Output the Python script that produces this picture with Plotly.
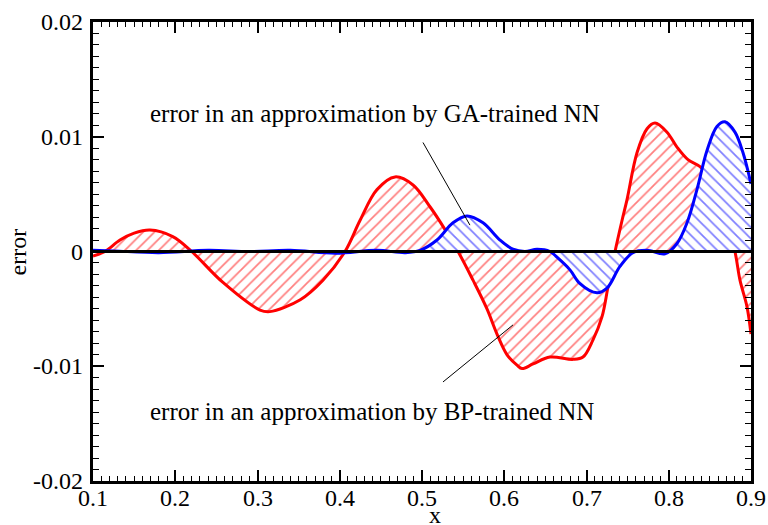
import plotly.graph_objects as go

# BP-trained NN error (red)
bp_x = [0.100, 0.1146, 0.1328, 0.150, 0.1693, 0.197, 0.2200, 0.258, 0.303, 0.315, 0.352, 0.3796,
        0.4064, 0.4246, 0.4453, 0.4672, 0.4891, 0.5097, 0.5219, 0.5438, 0.562, 0.579,
        0.5912, 0.6034, 0.6155, 0.6216, 0.635, 0.6556, 0.6836, 0.6957, 0.7079, 0.7188,
        0.7261, 0.7347, 0.7432, 0.7492, 0.7614, 0.7736, 0.7833, 0.7979, 0.8100, 0.8234,
        0.8380, 0.8526, 0.8672, 0.8805, 0.8866, 0.8951, 0.900]
bp_y = [-0.0004, 0.0, 0.0010, 0.0016, 0.00187, 0.0013, 0.0, -0.0027, -0.0051, -0.00524, -0.0042, -0.0025,
        0.0, 0.0027, 0.0054, 0.0065, 0.0058, 0.0039, 0.0026, 0.0, -0.0025, -0.0050,
        -0.0072, -0.0090, -0.0099, -0.0102, -0.0098, -0.0092, -0.0094, -0.0092, -0.0077, -0.0057,
        -0.0031, 0.0, 0.0027, 0.0045, 0.0086, 0.0107, 0.0112, 0.0104, 0.0091, 0.0080,
        0.0074, 0.0062, 0.0036, 0.0, -0.0025, -0.0048, -0.0072]

# GA-trained NN error (blue)
ga_x = [0.100, 0.125, 0.18, 0.24, 0.29, 0.34, 0.395, 0.445, 0.48, 0.4976, 0.5182, 0.5377,
        0.5547, 0.5742, 0.5948, 0.6106, 0.625, 0.6398, 0.6556, 0.6641, 0.6799, 0.6921,
        0.7128, 0.7249, 0.7407, 0.7565, 0.7736, 0.7954, 0.81, 0.8222, 0.8343, 0.8465,
        0.8586, 0.8684, 0.8805, 0.8903, 0.900]
ga_y = [0.0001, 0.00005, -0.0001, 0.0001, 0.0, 0.0001, -0.00015, 0.0001, -0.0001, 0.0001, 0.0010, 0.0025,
        0.0031, 0.0025, 0.0010, 0.0002, 0.0, 0.0002, 0.0, -0.0005, -0.0016, -0.0028,
        -0.0036, -0.0032, -0.0013, -0.0001, 0.0001, -0.0002, 0.0007, 0.0025, 0.0054, 0.0088,
        0.0109, 0.0113, 0.0104, 0.0086, 0.0059]

x_ticks = [0.1, 0.2, 0.3, 0.4, 0.5, 0.6, 0.7, 0.8, 0.9]
x_labels = ["0.1", "0.2", "0.3", "0.4", "0.5", "0.6", "0.7", "0.8", "0.9"]
y_ticks = [-0.02, -0.01, 0.0, 0.01, 0.02]
y_labels = ["-0.02", "-0.01", "0", "0.01", "0.02"]

ga_text = "error in an approximation by GA-trained NN"
bp_text = "error in an approximation by BP-trained NN"

FONT = "Liberation Serif"
TXT = dict(family=FONT, size=24, color="black")

fig = go.Figure()
fig.add_trace(go.Scatter(
    x=bp_x, y=bp_y, mode="lines", line=dict(color="#ff0000", width=3, shape="spline"),
    fill="tozeroy", fillcolor="rgba(0,0,0,0)",
    fillpattern=dict(shape="/", fgcolor="#ff0000", bgcolor="white", size=8, solidity=0.22),
    showlegend=False))
fig.add_trace(go.Scatter(
    x=ga_x, y=ga_y, mode="lines", line=dict(color="#0000ff", width=3, shape="spline"),
    fill="tozeroy", fillcolor="rgba(0,0,0,0)",
    fillpattern=dict(shape="\\", fgcolor="#0000ff", bgcolor="white", size=8, solidity=0.22),
    showlegend=False))
fig.add_trace(go.Scatter(
    x=[x_ticks[0], x_ticks[-1]], y=[0, 0], mode="lines",
    line=dict(color="black", width=3), showlegend=False))

# pointer lines
fig.add_shape(type="line", x0=0.5012, y0=0.0095, x1=0.5583, y1=0.0023,
              line=dict(color="black", width=1))
fig.add_shape(type="line", x0=0.5255, y0=-0.01137, x1=0.6106, y1=-0.0064,
              line=dict(color="black", width=1))

fig.add_annotation(x=0.1669, y=0.0120, text=ga_text, showarrow=False, xanchor="left",
                   yanchor="middle", font=dict(family=FONT, size=25, color="black"))
fig.add_annotation(x=0.1669, y=-0.0139, text=bp_text, showarrow=False, xanchor="left",
                   yanchor="middle", font=dict(family=FONT, size=25, color="black"))

# tick labels (serif), placed at the axis tick values
for v, t in zip(x_ticks, x_labels):
    fig.add_annotation(x=v, y=-0.036, xref="x", yref="paper", text=t, showarrow=False,
                       xanchor="center", yanchor="middle", font=TXT, borderpad=0)
for v, t in zip(y_ticks, y_labels):
    fig.add_annotation(x=-0.013, y=v, xref="paper", yref="y", text=t, showarrow=False,
                       xanchor="right", yanchor="middle", font=TXT, borderpad=0)

# axis titles
fig.add_annotation(x=0.52, y=-0.073, xref="paper", yref="paper", text="x", showarrow=False,
                   xanchor="center", yanchor="middle", font=TXT, borderpad=0)
fig.add_annotation(x=-0.114, y=0.5, xref="paper", yref="paper", text="error", showarrow=False,
                   textangle=-90, xanchor="center", yanchor="middle", font=TXT)

axis_common = dict(showline=True, linecolor="black", linewidth=3, mirror="ticks",
                   ticks="inside", ticklen=11, tickwidth=1.5, tickcolor="black",
                   showgrid=False, zeroline=False, showticklabels=False)

fig.update_xaxes(range=[0.1, 0.9], tickmode="array", tickvals=x_ticks,
                 minor=dict(ticks="inside", ticklen=5, tickwidth=1, tickcolor="black",
                            dtick=0.01, tick0=0.1, showgrid=False),
                 **axis_common)
fig.update_yaxes(range=[-0.02, 0.02], tickmode="array", tickvals=y_ticks,
                 minor=dict(ticks="inside", ticklen=6, tickwidth=1, tickcolor="black",
                            dtick=0.001, tick0=0, showgrid=False),
                 **axis_common)

fig.update_layout(width=768, height=525, margin=dict(l=93, r=17, t=22, b=44),
                  plot_bgcolor="white", paper_bgcolor="white",
                  font=dict(family=FONT, size=24, color="black"))

fig.write_html("out.html")
